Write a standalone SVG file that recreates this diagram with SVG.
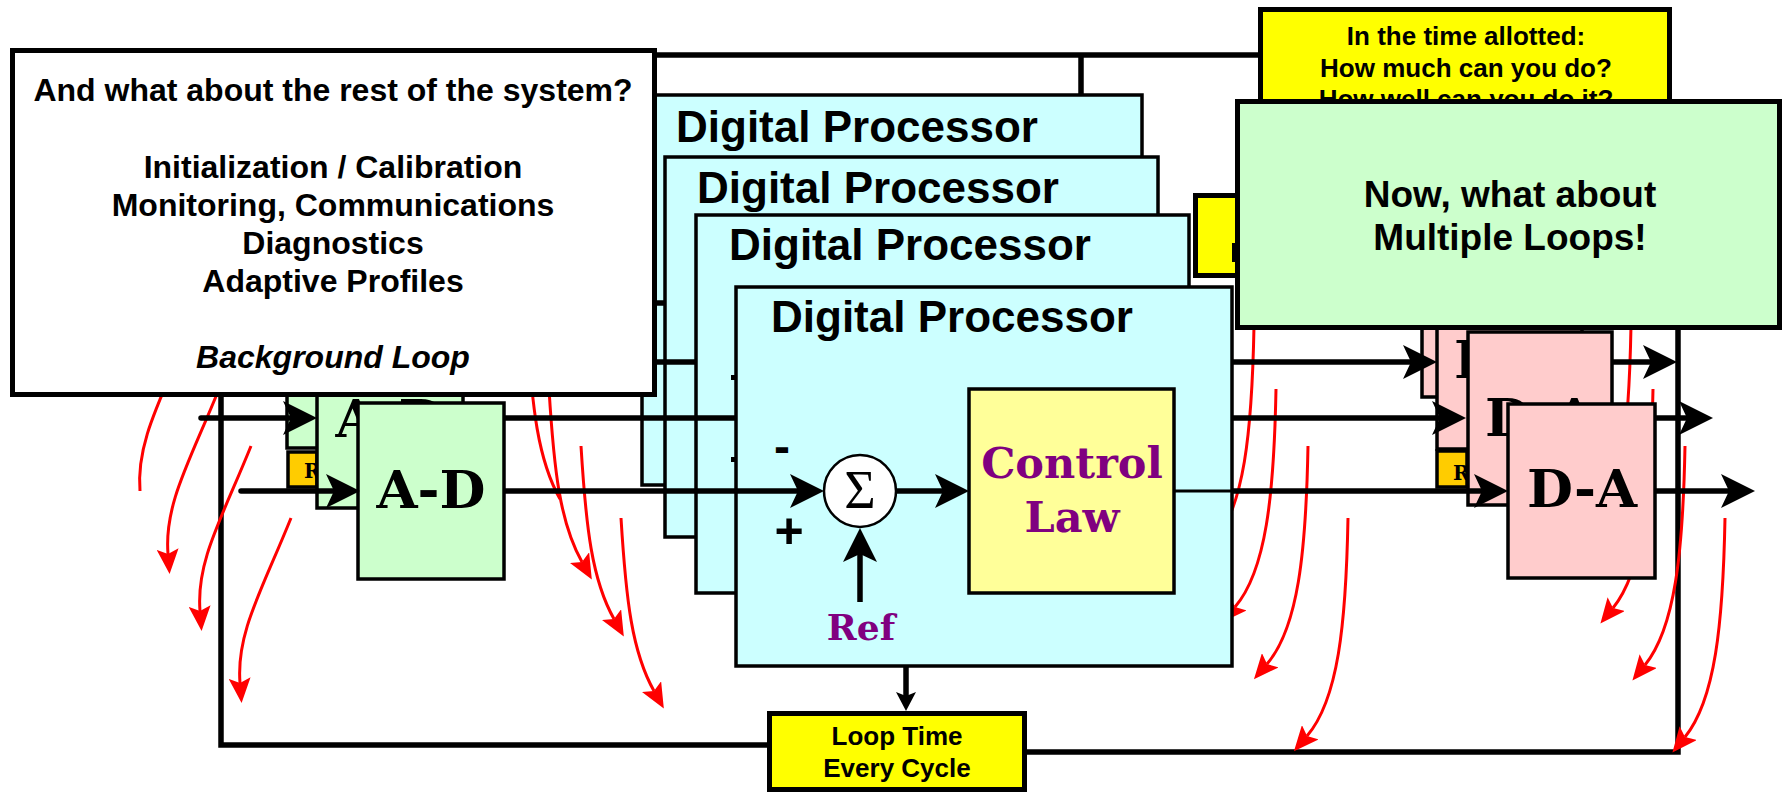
<svg xmlns="http://www.w3.org/2000/svg" width="1785" height="793" viewBox="0 0 1785 793">
<defs>
<style>
.ln{stroke:#000;stroke-width:5.5;fill:none}
.ar{stroke:#000;stroke-width:5.5;fill:none;marker-end:url(#ah)}
.arr{stroke:#000;stroke-width:5.5;fill:none;marker-end:url(#ah);stroke-linecap:round}
.thin{stroke:#000;stroke-width:3;fill:none}
.dp{fill:#CCFFFF;stroke:#000;stroke-width:3.5}
.ad{fill:#CCFFCC;stroke:#000;stroke-width:3.5}
.da{fill:#FFCCCC;stroke:#000;stroke-width:3.5}
.rr{fill:#FFCC00;stroke:#000;stroke-width:3.5}
.call{stroke:#000;stroke-width:5}
.red{stroke:#FF0000;stroke-width:3;fill:none}
.rh{marker-end:url(#rh)}
.sans{font-family:'Liberation Sans',Arial,sans-serif;font-weight:bold}
.serif{font-family:'DejaVu Serif',serif;font-weight:bold}
.dpt{font-size:44px}
.conv{font-size:53px;text-anchor:middle}
.purple{fill:#800080}
.mid{text-anchor:middle}
.bg{font-size:32px}
</style>
<marker id="ah" markerUnits="userSpaceOnUse" viewBox="0 -17 34 34" refX="8" refY="0" markerWidth="34" markerHeight="34" orient="auto">
<path d="M0,-17 L34,0 L0,17 L8,0 Z" fill="#000"/>
</marker>
<marker id="ahs" markerUnits="userSpaceOnUse" viewBox="0 -10 19 20" refX="4" refY="0" markerWidth="19" markerHeight="20" orient="auto">
<path d="M0,-10 L19,0 L0,10 L4,0 Z" fill="#000"/>
</marker>
<marker id="rh" markerUnits="userSpaceOnUse" viewBox="0 -11 25 22" refX="5" refY="0" markerWidth="25" markerHeight="22" orient="auto">
<path d="M0,-11 L25,0 L0,11 L5,0 Z" fill="#FF0000"/>
</marker>
</defs>
<rect width="1785" height="793" fill="#fff"/>

<!-- outer loop connectors -->
<g id="loop-connectors">
<path class="ln" d="M221,55 V745 H770"/>
<path class="ln" d="M221,55 H1300"/>
<path class="ln" d="M1024,752 H1678 V200"/>
<path class="ln" d="M1081,55 V115"/>
<circle cx="1081" cy="115" r="8" fill="#000"/>
</g>

<!-- copy 1 -->
<g id="da-1"><rect class="da" x="1422" y="223" width="145" height="174"/></g>
<g id="dp-1"><rect class="dp" x="642" y="95" width="500" height="390"/>
<text class="sans dpt" x="676" y="142">Digital Processor</text></g>
<g id="connectors-1"><path class="ln" d="M400,303 H700"/></g>
<g id="red-1" transform="translate(-94,-192)">
<path class="red" d="M285,518 C256,590 230,633 234,683"/>
<path class="red" d="M621,518 C626,600 632,652 654,691"/>
<path class="red" d="M1348,518 C1346,625 1338,700 1307,736"/>
<path class="red" d="M1725,518 C1723,625 1715,700 1685,737"/>
</g>

<!-- copy 2 -->
<g id="ad-2"><rect class="ad" x="287" y="273" width="146" height="175"/></g>
<g id="da-2"><rect class="da" x="1437" y="275" width="145" height="174"/>
<text class="serif conv" x="1509" y="378">D-A</text></g>
<g id="dp-2"><rect class="dp" x="665" y="157" width="493" height="380"/>
<text class="sans dpt" x="697" y="203">Digital Processor</text></g>
<g id="connectors-2">
<path class="ln" d="M432,362 H720"/>
<path class="ar" d="M1158,362 H1411"/>
<path class="ar" d="M1582,362 H1651"/>
</g>
<g id="red-2" transform="translate(-72,-129)">
<path class="red rh" d="M291,518 C262,590 236,633 240,683"/>
<path class="red rh" d="M621,518 C626,600 632,652 654,691"/>
<path class="red rh" d="M1348,518 C1346,625 1338,700 1307,736"/>
<path class="red rh" d="M1725,518 C1723,625 1715,700 1685,737"/>
</g>

<!-- copy 3 -->
<g id="reg-ad-3"><rect class="rr" x="288" y="452" width="29" height="35"/>
<text class="serif" x="304" y="478" font-size="20">R</text></g>
<g id="ad-3"><rect class="ad" x="317" y="333" width="146" height="175"/>
<text class="serif conv" x="390" y="437">A-D</text></g>
<g id="reg-da-3"><rect class="rr" x="1437" y="451" width="30" height="36"/>
<text class="serif" x="1453" y="480" font-size="20">R</text></g>
<g id="da-3"><rect class="da" x="1468" y="332" width="144" height="173"/>
<text class="serif conv" x="1540" y="436">D-A</text></g>
<g id="dp-3"><rect class="dp" x="696" y="215" width="493" height="378"/>
<text class="sans dpt" x="729" y="260">Digital Processor</text>
<rect x="731" y="375" width="4" height="5" fill="#000"/>
<rect x="731" y="457" width="4" height="5" fill="#000"/></g>
<g id="connectors-3">
<path class="arr" d="M201,418 H291"/>
<path class="ln" d="M462,418 H760"/>
<path class="ar" d="M1180,418 H1440"/>
<path class="ar" d="M1612,418 H1687"/>
</g>
<g id="red-3" transform="translate(-40,-72)">
<path class="red rh" d="M291,518 C262,590 236,633 240,683"/>
<path class="red rh" d="M621,518 C626,600 632,652 654,691"/>
<path class="red rh" d="M1348,518 C1346,625 1338,700 1307,736"/>
<path class="red rh" d="M1725,518 C1723,625 1715,700 1685,737"/>
</g>

<!-- copy 4 (front) -->
<g id="ad-4"><rect class="ad" x="358" y="403" width="146" height="176"/>
<text class="serif conv" x="431" y="508">A-D</text></g>
<g id="da-4"><rect class="da" x="1508" y="404" width="147" height="174"/>
<text class="serif conv" x="1582" y="507">D-A</text></g>
<g id="dp-4"><rect class="dp" x="736" y="287" width="496" height="379"/>
<text class="sans dpt" x="771" y="332">Digital Processor</text>
<text class="sans mid" x="782" y="463" font-size="48">-</text>
<text class="sans mid" x="789" y="548" font-size="50">+</text></g>
<g id="sum"><circle cx="860" cy="491" r="36" fill="#fff" stroke="#000" stroke-width="2.5"/>
<text x="860" y="508" font-family="'Liberation Serif',serif" font-size="54" text-anchor="middle">Σ</text></g>
<g id="control-law"><rect x="969" y="389" width="205" height="204" fill="#FFFF99" stroke="#000" stroke-width="3.5"/>
<text class="serif purple mid" x="1072" y="478" font-size="43">Control</text>
<text class="serif purple mid" x="1072" y="532" font-size="43">Law</text></g>
<g id="ref"><text class="serif purple mid" x="861" y="640" font-size="36">Ref</text></g>
<g id="connectors-4">
<path class="arr" d="M241,491 H334"/>
<path class="ar" d="M504,491 H798"/>
<path class="ar" d="M896,491 H943"/>
<path class="thin" d="M1174,491 H1233"/>
<path class="ar" d="M1232,491 H1482"/>
<path class="ar" d="M1655,491 H1729"/>
<path class="ar" d="M860,602 V554"/>
<path class="ln" d="M906,666 V696" marker-end="url(#ahs)"/>
</g>
<g id="red-4">
<path class="red rh" d="M291,518 C262,590 236,633 240,683"/>
<path class="red rh" d="M621,518 C626,600 632,652 654,691"/>
<path class="red rh" d="M1348,518 C1346,625 1338,700 1307,736"/>
<path class="red rh" d="M1725,518 C1723,625 1715,700 1685,737"/>
</g>
<g id="loop-time"><rect class="call" x="769.5" y="713.5" width="255" height="76" fill="#FFFF00"/>
<text class="sans mid" x="897" y="745" font-size="26">Loop Time</text>
<text class="sans mid" x="897" y="777" font-size="26">Every Cycle</text></g>

<!-- overlay callouts -->
<g id="loop-time-back"><rect class="call" x="1195.5" y="195.5" width="60" height="80" fill="#FFFF00"/>
<rect x="1232" y="243" width="4" height="19" fill="#000"/></g>
<g id="background-note"><rect class="call" x="12.5" y="50.5" width="642" height="344" fill="#fff"/>
<text class="sans mid bg" x="333" y="101">And what about the rest of the system?</text>
<text class="sans mid bg" x="333" y="178">Initialization / Calibration</text>
<text class="sans mid bg" x="333" y="216">Monitoring, Communications</text>
<text class="sans mid bg" x="333" y="254">Diagnostics</text>
<text class="sans mid bg" x="333" y="292">Adaptive Profiles</text>
<text class="sans mid bg" x="333" y="368" font-style="italic">Background Loop</text></g>
<g id="time-note"><rect class="call" x="1260.5" y="9.5" width="409" height="120" fill="#FFFF00"/>
<text class="sans mid" x="1466" y="45" font-size="26">In the time allotted:</text>
<text class="sans mid" x="1466" y="77" font-size="26">How much can you do?</text>
<text class="sans mid" x="1466" y="108" font-size="26">How well can you do it?</text></g>
<g id="multi-note"><rect class="call" x="1237.5" y="101.5" width="542" height="226" fill="#CCFFCC"/>
<text class="sans mid" x="1510" y="207" font-size="37">Now, what about</text>
<text class="sans mid" x="1510" y="250" font-size="37">Multiple Loops!</text></g>
</svg>
